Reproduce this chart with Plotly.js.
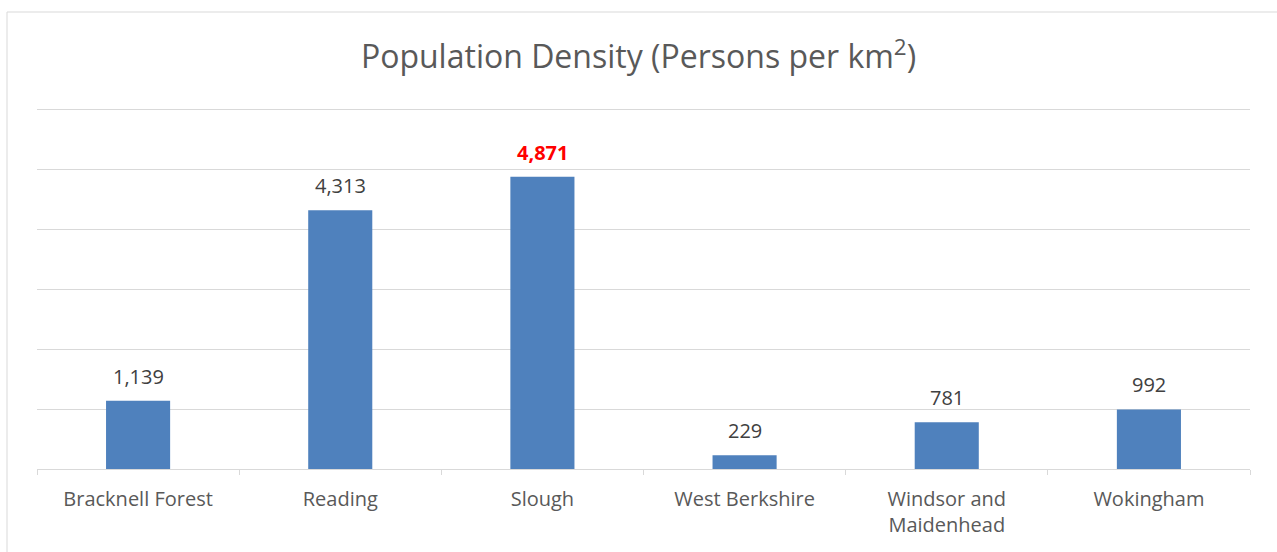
<!DOCTYPE html>
<html>
<head>
<meta charset="utf-8">
<script src="https://cdn.plot.ly/plotly-3.0.1.min.js"></script>
<style>
  html, body { margin: 0; padding: 0; background: #fff; }
  #myPlot { width: 1277px; height: 552px; }
</style>
</head>
<body>
<div id="myPlot"></div>
<script>
var areas = ["Bracknell Forest", "Reading", "Slough", "West Berkshire", "Windsor and<br>Maidenhead", "Wokingham"];
var density = [1139, 4313, 4871, 229, 781, 992];
var highlight = "Slough";

var fmt = function (v) { return v.toLocaleString("en-GB"); };

// Define Data
var data = [
  {
    type: "bar",
    x: areas,
    y: density,
    marker: {color: "#4f81bd"},
    hoverinfo: "x+y"
  }
];

// value labels above the bars
var labels = areas.map(function (a, i) {
  var hot = a === highlight;
  return {
    x: a,
    y: density[i],
    xref: "x",
    yref: "y",
    text: hot ? "<b>" + fmt(density[i]) + "</b>" : fmt(density[i]),
    showarrow: false,
    yanchor: "bottom",
    yshift: 9,
    font: {family: "Open Sans", size: 20, color: hot ? "#ff0000" : "#404040"}
  };
});

// Define Layout
var layout = {
  width: 1277,
  height: 552,
  margin: {l: 37, r: 27, t: 97, b: 83},
  title: {
    text: "Population Density (Persons per km<sup>2</sup>)",
    font: {family: "Open Sans", size: 32, color: "#595959"},
    x: 0.5,
    xanchor: "center",
    y: 1 - 57 / 552,
    yref: "container",
    yanchor: "middle"
  },
  bargap: 0.683,
  xaxis: {
    type: "category",
    tickson: "boundaries",
    ticks: "outside",
    ticklen: 5,
    tickcolor: "#d9d9d9",
    showline: true,
    linecolor: "#d9d9d9",
    linewidth: 1,
    showgrid: false,
    ticklabelstandoff: 12,
    tickfont: {family: "Open Sans", size: 20, color: "#595959"}
  },
  yaxis: {
    range: [0, 6200],
    dtick: 1000,
    showticklabels: false,
    gridcolor: "#d9d9d9",
    zeroline: false,
    showline: false
  },
  annotations: labels,
  shapes: [{
    type: "rect",
    xref: "paper",
    yref: "paper",
    x0: -30 / 1213,
    x1: 1260 / 1213,
    y0: -91 / 372,
    y1: 457 / 372,
    line: {color: "#d9d9d9", width: 1}
  }],
  showlegend: false,
  plot_bgcolor: "#ffffff",
  paper_bgcolor: "#ffffff"
};

// Display using Plotly
Plotly.newPlot("myPlot", data, layout, {displayModeBar: false});
</script>
</body>
</html>
